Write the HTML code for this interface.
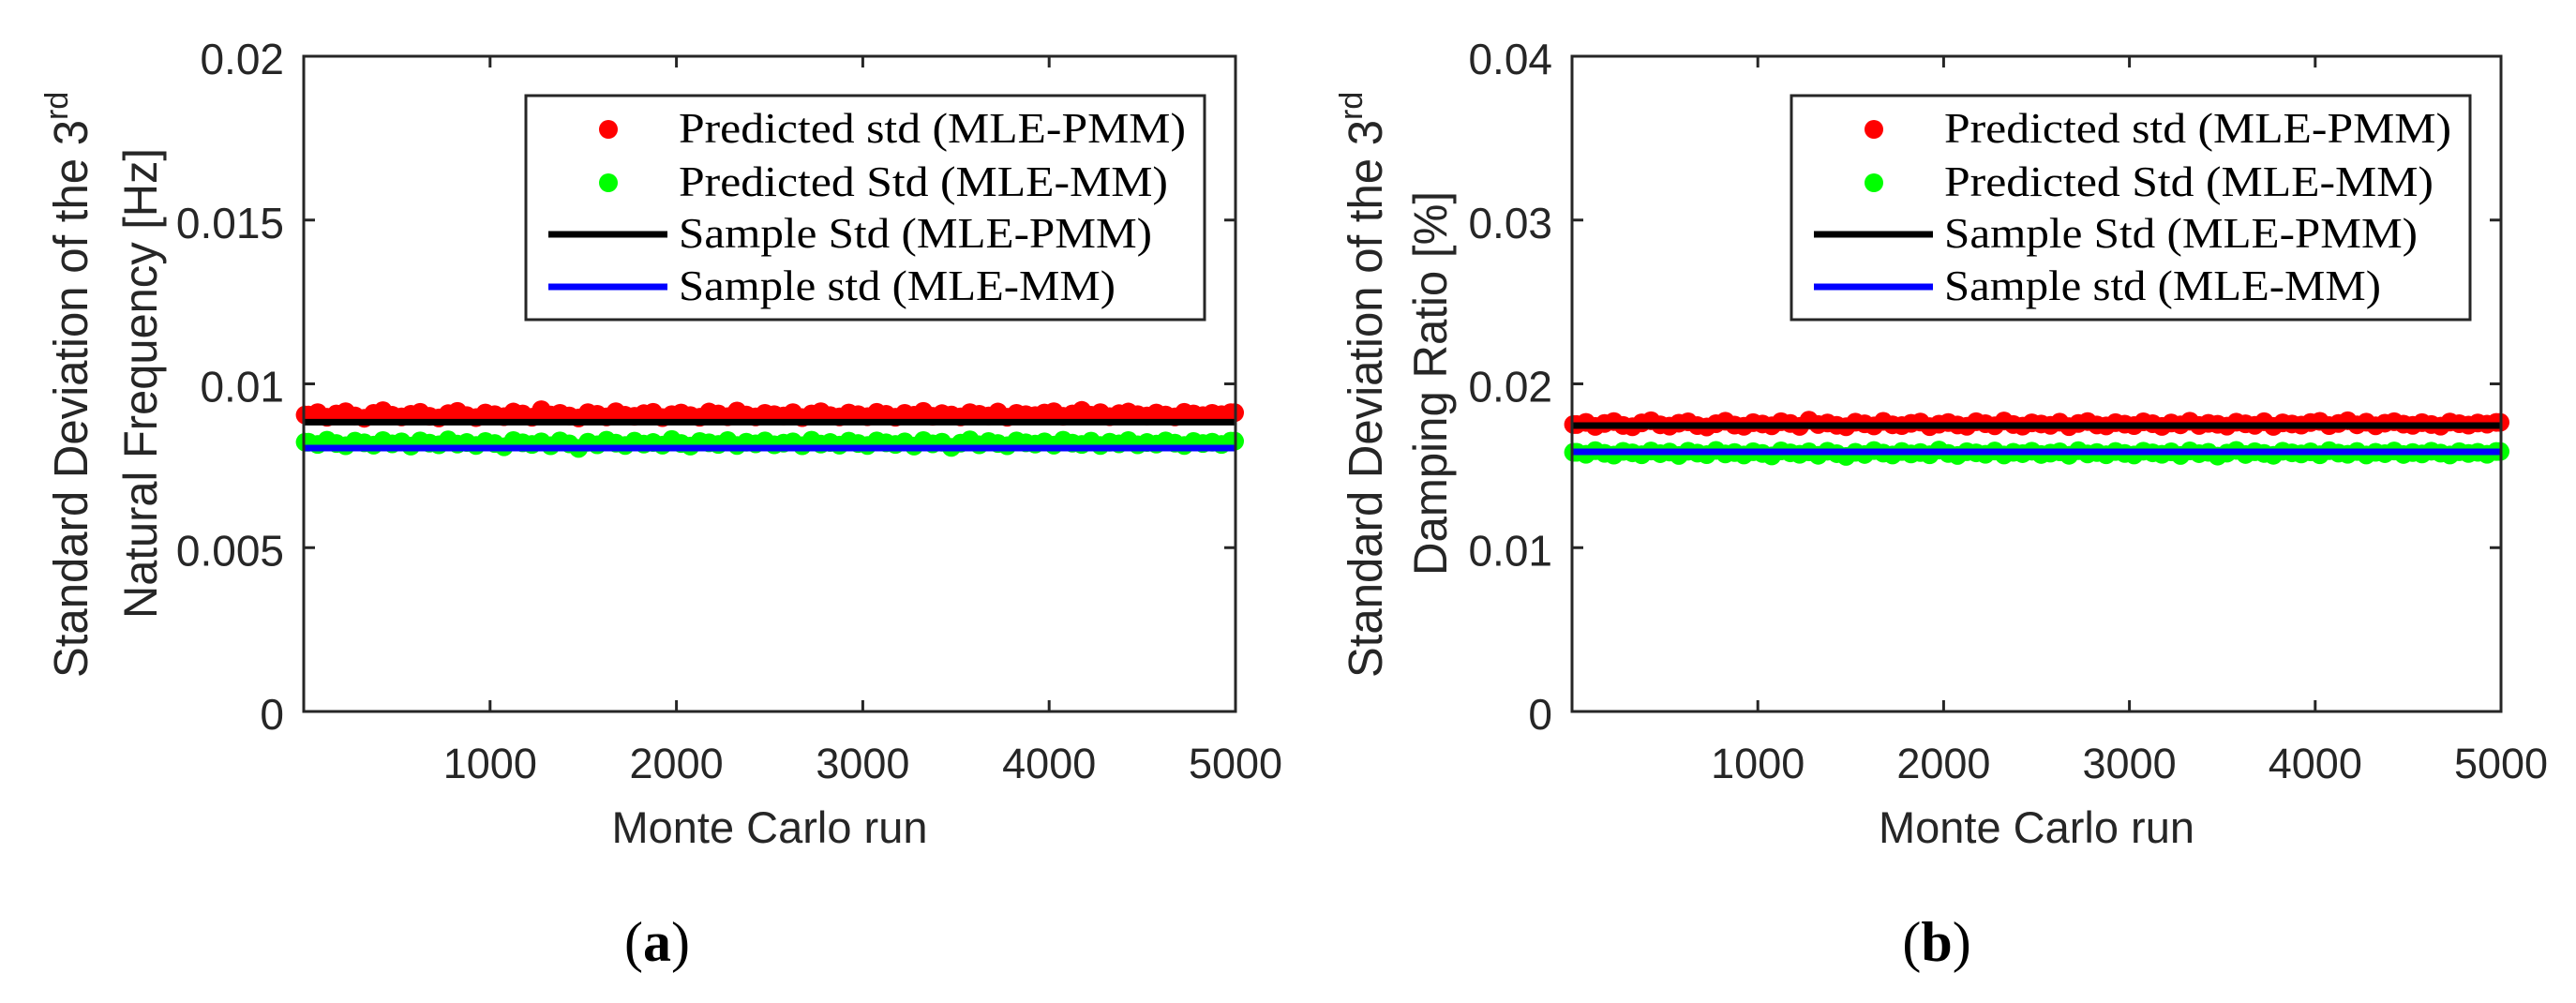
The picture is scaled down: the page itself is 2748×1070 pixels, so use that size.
<!DOCTYPE html>
<html><head><meta charset="utf-8"><style>
html,body{margin:0;padding:0;background:#fff;}
svg{display:block;}
</style></head><body>
<svg id="fig" width="2748" height="1070" viewBox="0 0 2748 1070" xmlns="http://www.w3.org/2000/svg"></svg>
<script>
// ---- data (sampled every 50 runs) ----
const runs = [];
for (let i = 0; i < 100; i++) runs.push(25 + i * 50);
const freqPredPMM = [0.00905,0.00912,0.00898,0.00908,0.00915,0.00902,0.00895,0.00910,0.00918,0.00904,0.00899,0.00907,0.00913,0.00901,0.00896,0.00909,0.00916,0.00903,0.00897,0.00911,0.00906,0.00900,0.00914,0.00908,0.00898,0.00921,0.00905,0.00910,0.00902,0.00896,0.00912,0.00907,0.00899,0.00915,0.00904,0.00901,0.00909,0.00913,0.00897,0.00906,0.00911,0.00903,0.00898,0.00914,0.00908,0.00900,0.00917,0.00905,0.00899,0.00910,0.00906,0.00902,0.00912,0.00897,0.00908,0.00915,0.00903,0.00899,0.00911,0.00906,0.00900,0.00913,0.00907,0.00898,0.00910,0.00904,0.00916,0.00901,0.00909,0.00905,0.00899,0.00912,0.00907,0.00902,0.00914,0.00898,0.00910,0.00906,0.00903,0.00911,0.00915,0.00901,0.00908,0.00919,0.00904,0.00912,0.00900,0.00909,0.00914,0.00906,0.00902,0.00911,0.00905,0.00899,0.00913,0.00908,0.00903,0.00910,0.00906,0.00912];
const freqPredMM = [0.00822,0.00815,0.00828,0.00818,0.00811,0.00825,0.00820,0.00813,0.00827,0.00817,0.00823,0.00810,0.00826,0.00819,0.00814,0.00829,0.00816,0.00821,0.00812,0.00824,0.00818,0.00808,0.00827,0.00820,0.00815,0.00823,0.00811,0.00826,0.00817,0.00803,0.00822,0.00814,0.00828,0.00819,0.00812,0.00825,0.00816,0.00821,0.00813,0.00830,0.00818,0.00810,0.00824,0.00820,0.00815,0.00827,0.00812,0.00822,0.00817,0.00826,0.00814,0.00819,0.00823,0.00811,0.00828,0.00816,0.00821,0.00813,0.00825,0.00818,0.00812,0.00826,0.00820,0.00815,0.00823,0.00810,0.00827,0.00817,0.00822,0.00806,0.00819,0.00829,0.00814,0.00824,0.00818,0.00811,0.00826,0.00820,0.00816,0.00823,0.00813,0.00828,0.00819,0.00815,0.00825,0.00812,0.00822,0.00817,0.00827,0.00814,0.00821,0.00816,0.00826,0.00819,0.00812,0.00824,0.00818,0.00822,0.00815,0.00825];
const freqSamplePMM = 0.00883;
const freqSampleMM = 0.00804;
const dampPredPMM = [0.01752,0.01765,0.01740,0.01758,0.01770,0.01746,0.01738,0.01762,0.01775,0.01750,0.01742,0.01760,0.01768,0.01745,0.01737,0.01757,0.01772,0.01748,0.01741,0.01763,0.01755,0.01744,0.01769,0.01758,0.01740,0.01778,0.01752,0.01761,0.01747,0.01738,0.01766,0.01756,0.01743,0.01771,0.01750,0.01745,0.01759,0.01767,0.01739,0.01754,0.01764,0.01749,0.01741,0.01769,0.01757,0.01744,0.01773,0.01752,0.01742,0.01762,0.01755,0.01747,0.01766,0.01739,0.01758,0.01770,0.01749,0.01743,0.01763,0.01754,0.01745,0.01768,0.01757,0.01740,0.01761,0.01750,0.01772,0.01746,0.01759,0.01753,0.01742,0.01766,0.01756,0.01747,0.01769,0.01740,0.01762,0.01755,0.01748,0.01764,0.01771,0.01745,0.01758,0.01775,0.01750,0.01766,0.01744,0.01760,0.01769,0.01754,0.01747,0.01763,0.01752,0.01742,0.01767,0.01757,0.01748,0.01761,0.01754,0.01765];
const dampPredMM = [0.01582,0.01570,0.01592,0.01576,0.01565,0.01588,0.01579,0.01567,0.01590,0.01574,0.01584,0.01563,0.01589,0.01577,0.01568,0.01594,0.01572,0.01581,0.01566,0.01586,0.01575,0.01560,0.01591,0.01579,0.01570,0.01585,0.01564,0.01589,0.01574,0.01557,0.01582,0.01569,0.01593,0.01577,0.01566,0.01587,0.01572,0.01581,0.01567,0.01596,0.01575,0.01563,0.01586,0.01579,0.01570,0.01590,0.01566,0.01582,0.01574,0.01589,0.01569,0.01577,0.01585,0.01564,0.01592,0.01572,0.01581,0.01567,0.01587,0.01575,0.01566,0.01589,0.01579,0.01570,0.01585,0.01563,0.01591,0.01574,0.01582,0.01559,0.01577,0.01594,0.01569,0.01586,0.01575,0.01564,0.01589,0.01579,0.01572,0.01585,0.01567,0.01592,0.01577,0.01570,0.01587,0.01566,0.01582,0.01574,0.01590,0.01569,0.01581,0.01572,0.01589,0.01577,0.01566,0.01586,0.01575,0.01582,0.01570,0.01587];
const dampSamplePMM = 0.01745;
const dampSampleMM = 0.01585;
const xTicks = [1000,2000,3000,4000,5000];
const freqYTicks = [0,0.005,0.01,0.015,0.02];
const freqYTickLabels = ["0","0.005","0.01","0.015","0.02"];
const dampYTicks = [0,0.01,0.02,0.03,0.04];
const dampYTickLabels = ["0","0.01","0.02","0.03","0.04"];
const legendLabels = ["Predicted std (MLE-PMM)","Predicted Std (MLE-MM)","Sample Std (MLE-PMM)","Sample std (MLE-MM)"];
const legendWidths = [541, 522, 505, 466];

const NS = "http://www.w3.org/2000/svg";
const svg = document.getElementById("fig");
function mk(tag, attrs, parent) {
  const e = document.createElementNS(NS, tag);
  for (const k in attrs) e.setAttribute(k, attrs[k]);
  (parent || svg).appendChild(e);
  return e;
}
const SANS = "Liberation Sans, Arial, sans-serif";

function panel(cfg) {
  const g = mk("g", {});
  
  
  const L = cfg.left, R = cfg.right, T = 60, B = 759;
  const xs = v => L + (v - 0) / 5000 * (R - L);
  const ys = v => B - (v - 0) / cfg.ymax * (B - T);
  const pts = mk("g", {}, g);
  
  
  cfg.pred.forEach((ser, si) => {
    const col = si === 0 ? "#ff0000" : "#00ff00";
    ser.forEach((v, i) => {
      const c = mk("circle", {cx: xs(runs[i]), cy: ys(v), r: 10, fill: col}, pts);
      
      
    });
    const c1 = mk("circle", {cx: xs(8), cy: ys(ser[0]), r: 10, fill: col}, pts);
    
    
    const c2 = mk("circle", {cx: xs(4995), cy: ys(ser[ser.length-1]), r: 10, fill: col}, pts);
    
    
  });
  const l1 = mk("line", {x1: L, x2: R, y1: ys(cfg.samp[0]), y2: ys(cfg.samp[0]), stroke: "#000", "stroke-width": 7}, g);
  
  
  const l2 = mk("line", {x1: L, x2: R, y1: ys(cfg.samp[1]), y2: ys(cfg.samp[1]), stroke: "#0000ff", "stroke-width": 7}, g);
  
  
  const box = mk("rect", {x: L, y: T, width: R - L, height: B - T, fill: "none", stroke: "#262626", "stroke-width": 3}, g);
  
  
  xTicks.forEach(t => {
    const x = xs(t);
    mk("line", {x1: x, x2: x, y1: B, y2: B - 12, stroke: "#262626", "stroke-width": 3}, g);
    mk("line", {x1: x, x2: x, y1: T, y2: T + 12, stroke: "#262626", "stroke-width": 3}, g);
    const tx = mk("text", {x: x, y: 830, "text-anchor": "middle", "font-family": SANS, "font-size": 45, fill: "#262626"}, g);
    tx.textContent = t;
    
    
  });
  cfg.yt.forEach((t, i) => {
    const y = ys(t);
    mk("line", {x1: L, x2: L + 12, y1: y, y2: y, stroke: "#262626", "stroke-width": 3}, g);
    mk("line", {x1: R, x2: R - 12, y1: y, y2: y, stroke: "#262626", "stroke-width": 3}, g);
    const tx = mk("text", {x: L - 21, y: y + 19, "text-anchor": "end", "font-family": SANS, "font-size": 46, fill: "#262626"}, g);
    tx.textContent = cfg.ytl[i];
    
    
  });
  const xt = mk("text", {x: (L + R) / 2, y: 899, "text-anchor": "middle", "font-family": SANS, "font-size": 47, fill: "#262626"}, g);
  xt.textContent = "Monte Carlo run";
  
  
  // y title line 1 (rotated; starts at y=723 going up)
  const yt1 = mk("text", {transform: `translate(${cfg.yl1},723) rotate(-90)`, "text-anchor": "start", "font-family": SANS, "font-size": 51, fill: "#262626"}, g);
  
  
  const ts1 = mk("tspan", {textLength: 595, lengthAdjust: "spacingAndGlyphs"}, yt1);
  ts1.textContent = "Standard Deviation of the 3";
  const ts2 = mk("tspan", {dy: -21, "font-size": 34}, yt1);
  ts2.textContent = "rd";
  const yt2 = mk("text", {transform: `translate(${cfg.yl2},409) rotate(-90)`, "text-anchor": "middle", "font-family": SANS, "font-size": 50, fill: "#262626", textLength: cfg.yl2len, lengthAdjust: "spacingAndGlyphs"}, g);
  
  
  yt2.textContent = cfg.ylabel2;
  // legend
  const lg = mk("g", {}, g);
  
  
  const lx = cfg.legX, lw = cfg.legW;
  mk("rect", {x: lx, y: 102, width: lw, height: 239, fill: "#fff", stroke: "#262626", "stroke-width": 3}, lg);
  const rowsY = [138, 195, 250, 306];
  legendLabels.forEach((lab, i) => {
    const y = rowsY[i];
    if (i < 2) {
      mk("circle", {cx: lx + 88, cy: y, r: 10, fill: i === 0 ? "#ff0000" : "#00ff00"}, lg);
    } else {
      mk("line", {x1: lx + 24, x2: lx + 151, y1: y, y2: y, stroke: i === 2 ? "#000" : "#0000ff", "stroke-width": 7}, lg);
    }
    const t = mk("text", {x: lx + 163, y: y + 14, "font-family": "Liberation Serif, serif", "font-size": 46, fill: "#000", textLength: legendWidths[i], lengthAdjust: "spacingAndGlyphs"}, lg);
    t.textContent = lab;
    
    
  });
  const cap = mk("text", {x: cfg.capX, y: 1025, "text-anchor": "middle", "font-family": "Liberation Serif, serif", "font-size": 60, fill: "#000"}, g);
  
  
  const c1 = mk("tspan", {}, cap); c1.textContent = "(";
  const c2 = mk("tspan", {"font-weight": "bold"}, cap); c2.textContent = cfg.cap;
  const c3 = mk("tspan", {}, cap); c3.textContent = ")";
}

panel({name: "panel-a-frequency", left: 324, right: 1318, ymax: 0.02, yt: freqYTicks, ytl: freqYTickLabels,
  pred: [freqPredPMM, freqPredMM], samp: [freqSamplePMM, freqSampleMM],
  ylabel2: "Natural Frequency [Hz]", yl1: 93, yl2: 167, yl2len: 502, legX: 561, legW: 724, capX: 701, cap: "a"});
panel({name: "panel-b-damping", left: 1677, right: 2668, ymax: 0.04, yt: dampYTicks, ytl: dampYTickLabels,
  pred: [dampPredPMM, dampPredMM], samp: [dampSamplePMM, dampSampleMM],
  ylabel2: "Damping Ratio [%]", yl1: 1474, yl2: 1543, yl2len: 410, legX: 1911, legW: 724, capX: 2066, cap: "b"});
</script>
</body></html>
